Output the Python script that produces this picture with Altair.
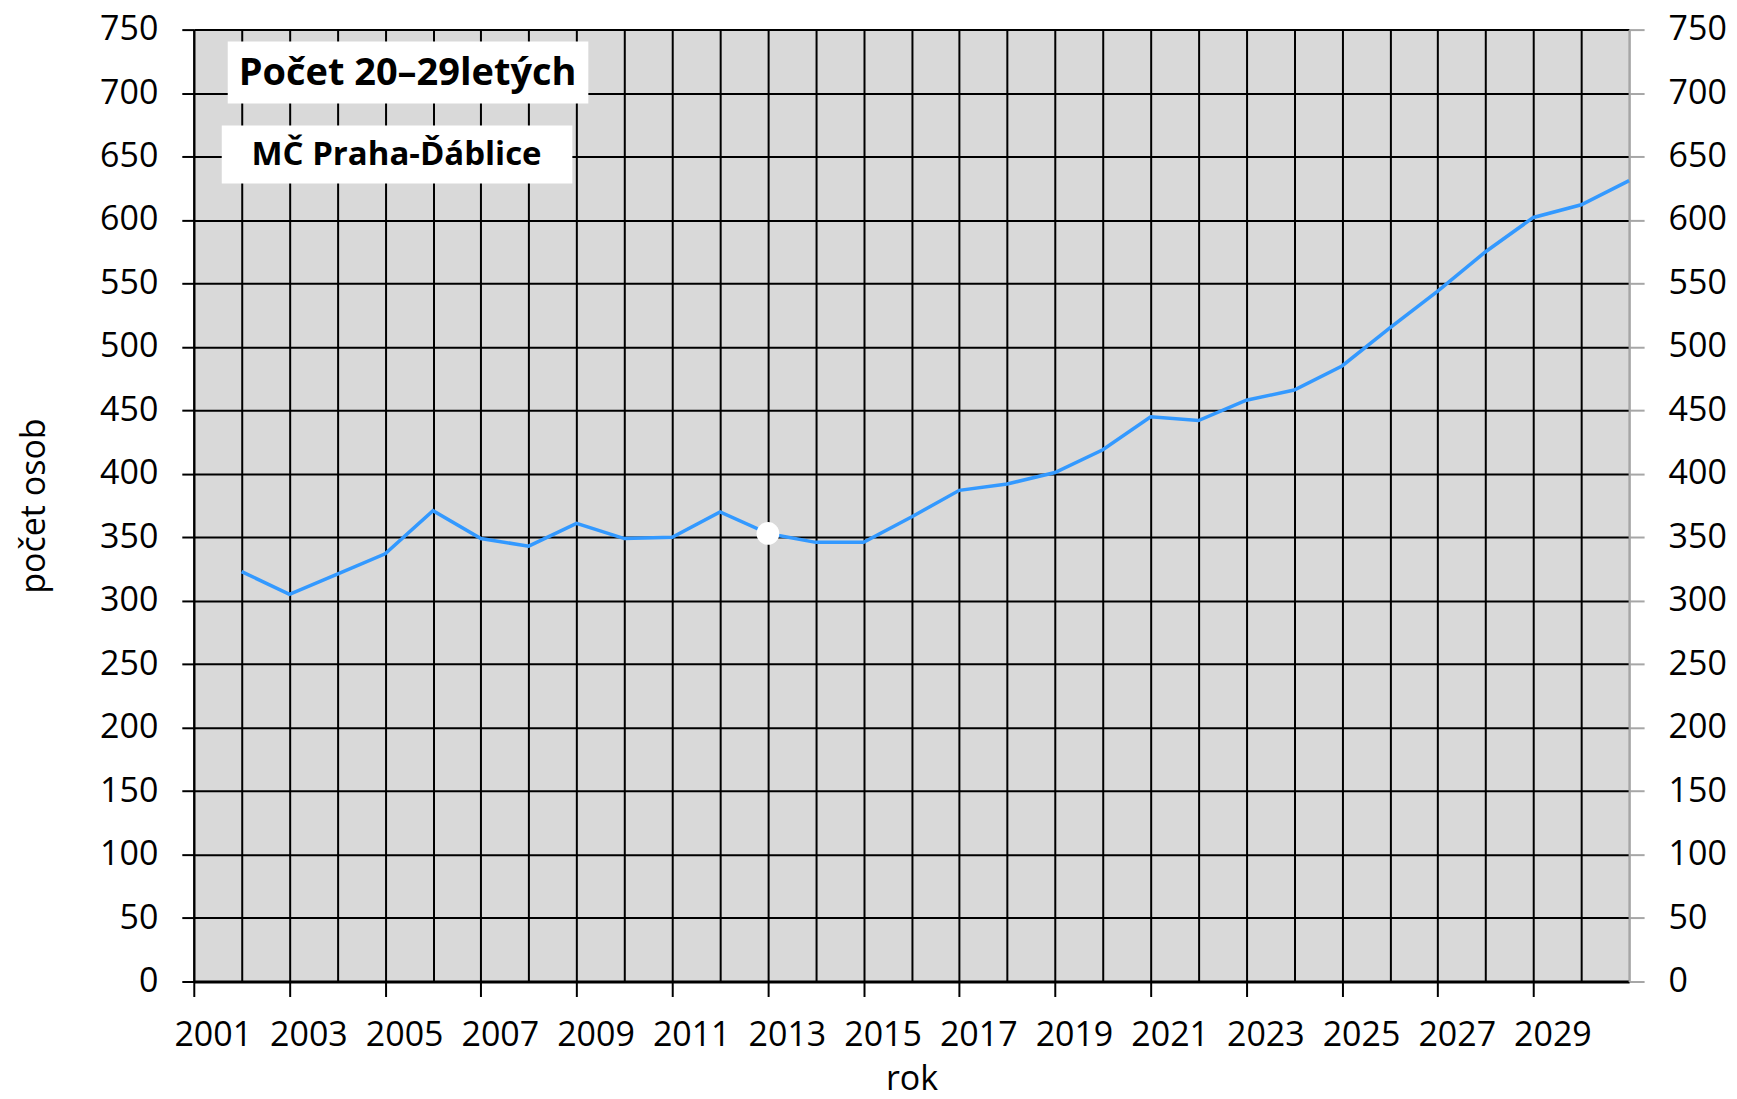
import altair as alt
import pandas as pd

years = [2002, 2003, 2004, 2005, 2006, 2007, 2008, 2009, 2010, 2011,
         2012, 2013, 2014, 2015, 2016, 2017, 2018, 2019, 2020, 2021,
         2022, 2023, 2024, 2025, 2026, 2027, 2028, 2029, 2030, 2031]
counts = [323, 305, 321, 337, 371, 349, 343, 361, 349, 350,
          370, 353, 346, 346, 366, 387, 392, 401, 419, 445,
          442, 458, 466, 485, 515, 544, 575, 602, 612, 631]
highlight_year = [2013]
highlight_count = [353]
grid_years = [2001, 2002, 2003, 2004, 2005, 2006, 2007, 2008, 2009, 2010,
              2011, 2012, 2013, 2014, 2015, 2016, 2017, 2018, 2019, 2020,
              2021, 2022, 2023, 2024, 2025, 2026, 2027, 2028, 2029, 2030, 2031]
y_ticks = [0, 50, 100, 150, 200, 250, 300, 350, 400, 450, 500, 550, 600, 650, 700, 750]
title_main = "Počet 20–29letých"
title_sub = "MČ Praha-Ďáblice"
x_title = "rok"
y_title = "počet osob"

FONT = "Open Sans"
W, H = 1437, 953

df = pd.DataFrame({"rok": years, "pocet": counts})
hl = pd.DataFrame({"rok": highlight_year, "pocet": highlight_count})
ann = pd.DataFrame({"a": [0]})

xscale = alt.Scale(domain=[2001, 2031], nice=False, zero=False)
yscale = alt.Scale(domain=[0, 750], nice=False, zero=True)

xaxis = alt.Axis(
    values=grid_years, title=x_title, format="d",
    labelExpr="(datum.value % 2 == 1 && datum.value < 2030) ? datum.label : ''",
    labelOverlap=False, labelFlush=False, labelOffset=19,
    labelFont=FONT, labelFontSize=34, labelColor="black", labelPadding=22,
    titleFont=FONT, titleFontSize=34, titleFontWeight="normal", titleColor="black",
    titlePadding=10,
    grid=True,
    gridColor={"condition": {"test": "datum.value == 2031", "value": "#a6a6a6"}, "value": "black"},
    gridWidth=2,
    domainColor="black", domainWidth=3,
    tickColor="black", tickWidth=2, tickSize=15,
    tickOpacity={"condition": {"test": "datum.value % 2 == 0 || datum.value > 2030", "value": 0}, "value": 1},
)

yaxis_left = alt.Axis(
    values=y_ticks, title=y_title, format="d",
    labelFont=FONT, labelFontSize=34, labelColor="black", labelPadding=24,
    titleFont=FONT, titleFontSize=34, titleFontWeight="normal", titleColor="black",
    titlePadding=48,
    grid=True, gridColor="black", gridWidth=2,
    domainColor="black", domainWidth=2,
    tickColor="black", tickWidth=2, tickSize=12,
)

yaxis_right = alt.Axis(
    values=y_ticks, title=None, format="d", orient="right",
    labelFont=FONT, labelFontSize=34, labelColor="black", labelPadding=24,
    grid=False,
    domainColor="#a6a6a6", domainWidth=2,
    tickColor="#a6a6a6", tickWidth=2, tickSize=15,
)

line = alt.Chart(df).mark_line(color="#3399ff", strokeWidth=3.5).encode(
    x=alt.X("rok:Q", scale=xscale, axis=xaxis),
    y=alt.Y("pocet:Q", scale=yscale, axis=yaxis_left),
)

dot = alt.Chart(hl).mark_point(filled=True, color="white", size=520, opacity=1).encode(
    x=alt.X("rok:Q", scale=xscale, axis=xaxis),
    y=alt.Y("pocet:Q", scale=yscale, axis=yaxis_right),
)

box1 = alt.Chart(ann).mark_rect(color="white").encode(
    x=alt.value(34), x2=alt.value(395), y=alt.value(12), y2=alt.value(74)
)
box2 = alt.Chart(ann).mark_rect(color="white").encode(
    x=alt.value(28), x2=alt.value(379), y=alt.value(96), y2=alt.value(154)
)
txt1 = alt.Chart(ann).mark_text(
    text=title_main, font=FONT, fontSize=38, fontWeight="bold", color="black",
    align="center", baseline="middle"
).encode(x=alt.value(214), y=alt.value(44))
txt2 = alt.Chart(ann).mark_text(
    text=title_sub, font=FONT, fontSize=33, fontWeight="bold", color="black",
    align="center", baseline="middle"
).encode(x=alt.value(203), y=alt.value(126))

chart = alt.layer(line, dot, box1, box2, txt1, txt2).resolve_scale(
    y="independent"
).properties(
    width=W, height=H,
    autosize=alt.AutoSizeParams(type="none"),
    padding={"left": 186, "top": 21, "right": 100, "bottom": 109},
    background="white",
).configure_view(fill="#d9d9d9", stroke=None)

chart.save("out.html", embed_options={"renderer": "svg", "actions": False})
